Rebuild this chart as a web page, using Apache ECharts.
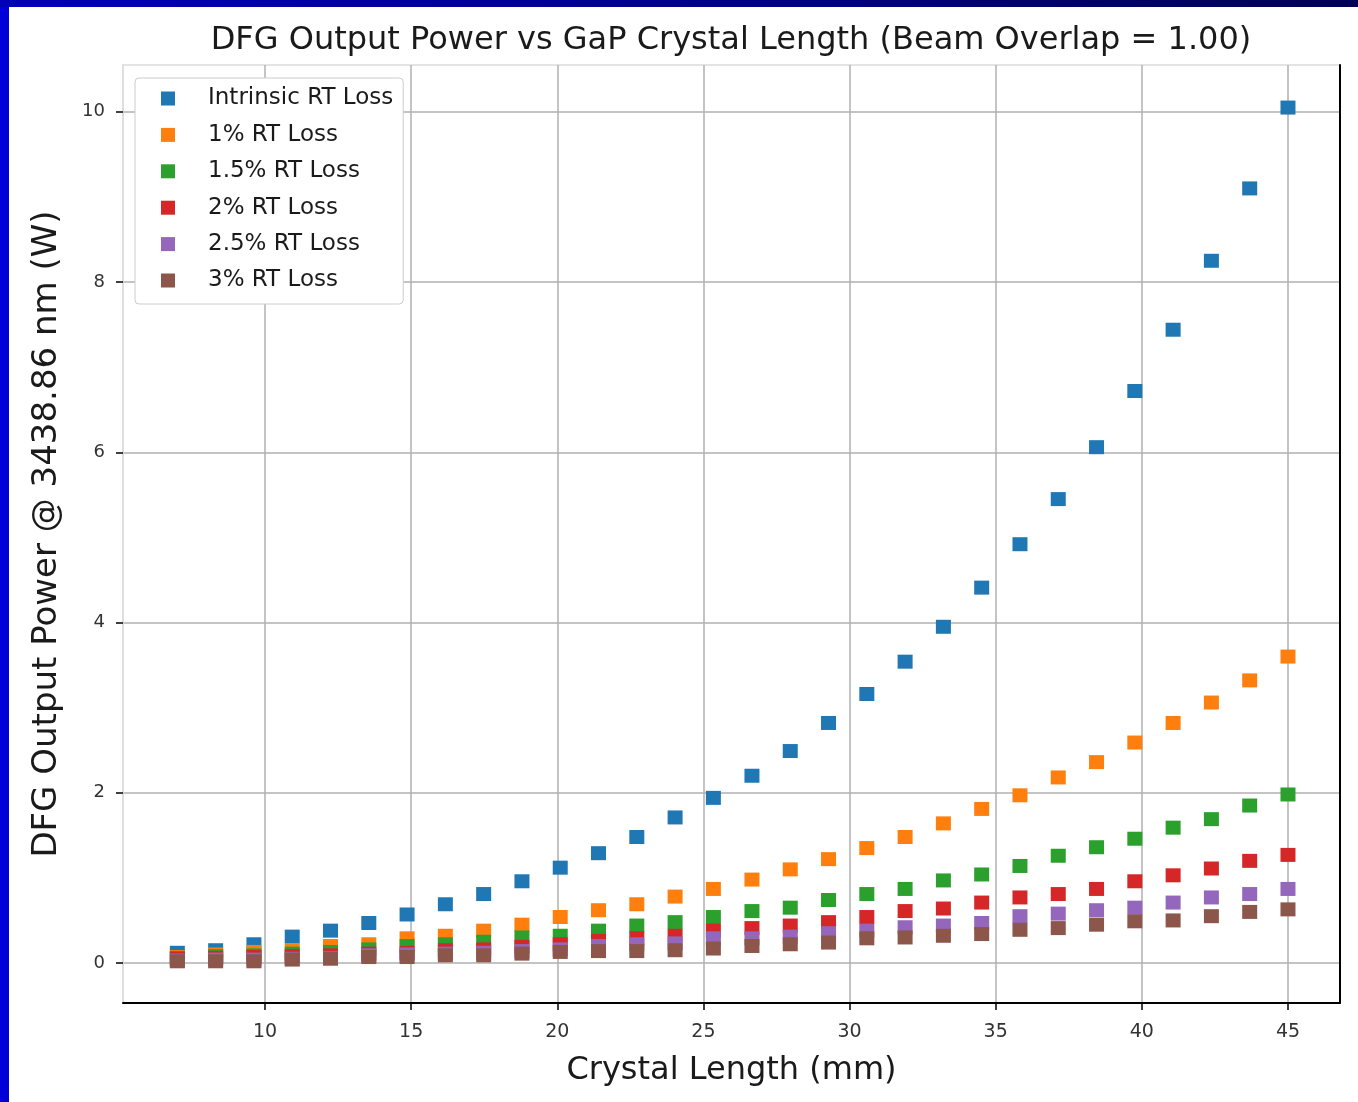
<!DOCTYPE html>
<html>
<head>
<meta charset="utf-8">
<script src="https://cdn.jsdelivr.net/npm/echarts@6/dist/echarts.min.js"></script>
<style>
html,body{margin:0;padding:0;background:#ffffff;}
#chart{width:1358px;height:1102px;}
</style>
</head>
<body>
<div id="chart"></div>
<script>
const crystalLength = [7.00, 8.31, 9.62, 10.93, 12.24, 13.55, 14.86, 16.17, 17.48, 18.79, 20.10, 21.41, 22.72, 24.03, 25.34, 26.66, 27.97, 29.28, 30.59, 31.90, 33.21, 34.52, 35.83, 37.14, 38.45, 39.76, 41.07, 42.38, 43.69, 45.00];
const intrinsicLoss = [0.12, 0.15, 0.22, 0.31, 0.38, 0.47, 0.57, 0.69, 0.81, 0.96, 1.12, 1.29, 1.48, 1.71, 1.94, 2.20, 2.49, 2.82, 3.16, 3.54, 3.95, 4.41, 4.92, 5.45, 6.06, 6.72, 7.44, 8.25, 9.10, 10.05];
const loss1 = [0.07, 0.10, 0.13, 0.15, 0.20, 0.22, 0.29, 0.32, 0.38, 0.45, 0.54, 0.62, 0.69, 0.78, 0.87, 0.98, 1.10, 1.22, 1.35, 1.48, 1.64, 1.81, 1.97, 2.18, 2.36, 2.59, 2.82, 3.06, 3.32, 3.60];
const loss15 = [0.06, 0.08, 0.09, 0.11, 0.13, 0.16, 0.20, 0.22, 0.25, 0.30, 0.32, 0.38, 0.44, 0.48, 0.54, 0.61, 0.65, 0.74, 0.81, 0.87, 0.97, 1.04, 1.14, 1.26, 1.36, 1.46, 1.59, 1.69, 1.85, 1.98];
const loss2 = [0.05, 0.06, 0.07, 0.08, 0.09, 0.11, 0.12, 0.15, 0.16, 0.19, 0.22, 0.26, 0.29, 0.32, 0.38, 0.41, 0.44, 0.48, 0.54, 0.61, 0.64, 0.71, 0.77, 0.81, 0.87, 0.96, 1.03, 1.11, 1.20, 1.27];
const loss25 = [0.03, 0.04, 0.04, 0.05, 0.06, 0.09, 0.10, 0.11, 0.12, 0.14, 0.16, 0.20, 0.22, 0.23, 0.29, 0.29, 0.31, 0.35, 0.38, 0.42, 0.44, 0.47, 0.55, 0.58, 0.62, 0.65, 0.71, 0.77, 0.81, 0.87];
const loss3 = [0.02, 0.02, 0.02, 0.04, 0.05, 0.07, 0.07, 0.09, 0.09, 0.11, 0.13, 0.14, 0.14, 0.15, 0.17, 0.20, 0.22, 0.24, 0.29, 0.30, 0.32, 0.34, 0.39, 0.41, 0.45, 0.49, 0.50, 0.55, 0.60, 0.63];

const seriesNames = ['Intrinsic RT Loss', '1% RT Loss', '1.5% RT Loss', '2% RT Loss', '2.5% RT Loss', '3% RT Loss'];
const seriesColors = ['#1f77b4', '#ff7f0e', '#2ca02c', '#d62728', '#9467bd', '#8c564b'];
const xTicks = [10, 15, 20, 25, 30, 35, 40, 45];
const yTicks = [0, 2, 4, 6, 8, 10];

const titleText = 'DFG Output Power vs GaP Crystal Length (Beam Overlap = 1.00)';
const xAxisTitle = 'Crystal Length (mm)';
const yAxisTitle = 'DFG Output Power @ 3438.86 nm (W)';

const allSeries = [intrinsicLoss, loss1, loss15, loss2, loss25, loss3];
const FONT = 'DejaVu Sans';

const chart = echarts.init(document.getElementById('chart'), null, {renderer: 'canvas'});

const series = allSeries.map((vals, i) => ({
  name: seriesNames[i],
  type: 'scatter',
  symbol: 'rect',
  symbolSize: [15, 14],
  itemStyle: {color: seriesColors[i], opacity: 1},
  data: vals.map((v, j) => [crystalLength[j], v]),
  z: 3 + i
}));

const option = {
  backgroundColor: '#ffffff',
  animation: false,
  graphic: [
    {type: 'rect', shape: {x: 0, y: 0, width: 9, height: 1102}, style: {fill: '#0000d8'}, z: 100},
    {type: 'rect', shape: {x: 0, y: 0, width: 1358, height: 7},
     style: {fill: new echarts.graphic.LinearGradient(0, 0, 1, 0, [{offset: 0, color: '#0000b8'}, {offset: 1, color: '#000058'}])}, z: 100},
    {type: 'text', x: 731, y: 41, z: 50,
     style: {text: titleText, fontFamily: FONT, fontSize: 32, fill: '#1a1a1a', align: 'center', verticalAlign: 'middle'}}
  ],
  grid: {left: 123, top: 65, right: 18, bottom: 99, show: true, borderColor: '#dcdcdc', borderWidth: 1.5, backgroundColor: '#ffffff'},
  legend: {
    orient: 'vertical',
    left: 135,
    top: 78,
    padding: [9, 10, 12, 26],
    itemGap: 13.4,
    itemWidth: 14,
    itemHeight: 14,
    icon: 'rect',
    backgroundColor: '#ffffff',
    borderColor: '#cccccc',
    borderWidth: 1,
    borderRadius: 4,
    textStyle: {fontFamily: FONT, fontSize: 23, color: '#1a1a1a', lineHeight: 20, padding: [0, 0, 0, 28]},
    data: seriesNames
  },
  xAxis: {
    type: 'value',
    min: 5.14,
    max: 46.78,
    axisLine: {show: true, onZero: false, lineStyle: {color: '#000000', width: 2}},
    axisTick: {show: true, customValues: xTicks, length: 7, lineStyle: {color: '#000000', width: 1.5}},
    axisLabel: {customValues: xTicks, margin: 20, fontFamily: FONT, fontSize: 19, color: '#333333'},
    splitLine: {show: true, lineStyle: {color: '#b0b0b0', width: 1.5}},
    name: xAxisTitle,
    nameLocation: 'middle',
    nameGap: 52,
    nameTextStyle: {fontFamily: FONT, fontSize: 32, color: '#1a1a1a'}
  },
  yAxis: [{
    type: 'value',
    min: -0.47,
    max: 10.55,
    axisLine: {show: true, onZero: false, lineStyle: {color: '#dcdcdc', width: 1.5}},
    axisTick: {show: true, customValues: yTicks, length: 7, lineStyle: {color: '#000000', width: 1.5}},
    axisLabel: {customValues: yTicks, margin: 18, fontFamily: FONT, fontSize: 18, color: '#333333'},
    splitLine: {show: true, lineStyle: {color: '#b0b0b0', width: 1.5}},
    name: yAxisTitle,
    nameLocation: 'middle',
    nameGap: 59,
    nameTextStyle: {fontFamily: FONT, fontSize: 34, color: '#1a1a1a'}
  }, {
    type: 'value',
    position: 'right',
    min: -0.47,
    max: 10.55,
    axisLine: {show: true, onZero: false, lineStyle: {color: '#000000', width: 2}},
    axisTick: {show: false},
    axisLabel: {show: false},
    splitLine: {show: false}
  }],
  series: series
};

chart.setOption(option);
</script>
</body>
</html>
